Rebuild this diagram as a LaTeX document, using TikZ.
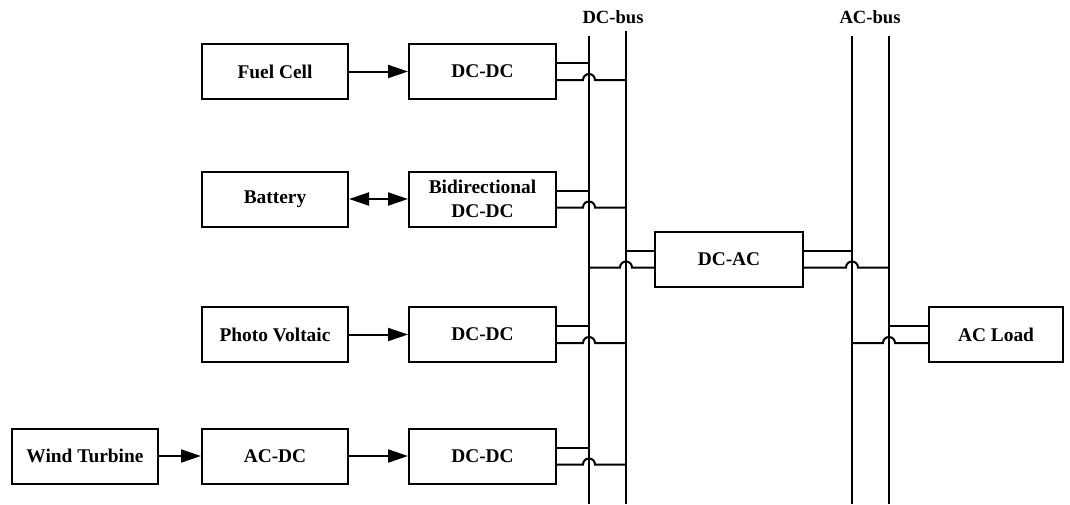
\documentclass[tikz,border=0pt]{standalone}
\usepackage{fontspec}
\setmainfont{Liberation Serif}
\usetikzlibrary{arrows.meta,calc}
\tikzset{
  blk/.style={draw,line width=2pt,minimum height=55pt,inner sep=0pt,align=center,
    font=\bfseries\fontsize{19.4}{23.5}\selectfont},
  wblk/.style={blk,minimum width=146pt},
  lbl/.style={font=\bfseries\fontsize{18.6}{20}\selectfont,inner sep=0pt},
  wire/.style={line width=2pt},
  arr/.style={line width=2pt,-{Triangle[length=20pt,width=13pt]}},
  darr/.style={line width=2pt,{Triangle[length=20pt,width=13pt]}-{Triangle[length=20pt,width=13pt]}},
}
\begin{document}
\begin{tikzpicture}[x=1pt,y=-1pt]
\useasboundingbox (0,0) rectangle (1070,504);
% blocks
\node[wblk] (fc) at (275,71.5) {Fuel Cell};
\node[wblk,minimum width=147pt] (dc1) at (482.5,71.5) {DC-DC};
\node[wblk] (bat) at (275,199) {Battery};
\node[wblk,minimum width=147pt] (bdc) at (482.5,199) {Bidirectional\\DC-DC};
\node[wblk] (pv) at (275,334.5) {Photo Voltaic};
\node[wblk,minimum width=147pt] (dc3) at (482.5,334.5) {DC-DC};
\node[wblk] (wt) at (85,456) {Wind Turbine};
\node[wblk] (acdc) at (275,456) {AC-DC};
\node[wblk,minimum width=147pt] (dc4) at (482.5,456) {DC-DC};
\node[blk,minimum width=148pt] (dcac) at (729,259) {DC-AC};
\node[blk,minimum width=134pt] (acl) at (996,334.5) {AC Load};
% buses
\coordinate (dcLt) at (589,36); \coordinate (dcLb) at (589,504);
\coordinate (dcRt) at (626,31); \coordinate (dcRb) at (626,504);
\coordinate (acLt) at (852,36); \coordinate (acLb) at (852,504);
\coordinate (acRt) at (889,36); \coordinate (acRb) at (889,504);
\draw[wire] (dcLt) -- (dcLb);
\draw[wire] (dcRt) -- (dcRb);
\draw[wire] (acLt) -- (acLb);
\draw[wire] (acRt) -- (acRb);
\node[lbl] (dclbl) at (613,17) {DC-bus};
\node[lbl] (aclbl) at (870,17) {AC-bus};
% arrows
\draw[arr] (fc) -- (dc1);
\draw[darr] (bat) -- (bdc);
\draw[arr] (pv) -- (dc3);
\draw[arr] (wt) -- (acdc);
\draw[arr] (acdc) -- (dc4);
% converters to DC bus
\foreach \b in {dc1,bdc,dc3,dc4}{
  \draw[wire] ([yshift=8.5pt]\b.east) coordinate (u) -- (u -| dcLt);
  \draw[wire] ([yshift=-8.5pt]\b.east) coordinate (l) -- ($(l -| dcLt)+(-6,0)$)
     arc[start angle=180,end angle=0,radius=6pt] -- (l -| dcRt);
}
% DC bus to DC-AC
\draw[wire] ([yshift=8.5pt]dcac.west) coordinate (u) -- (u -| dcRt);
\draw[wire] ([yshift=-8.5pt]dcac.west) coordinate (l) -- ($(l -| dcRt)+(6,0)$)
   arc[start angle=0,end angle=180,radius=6pt] -- (l -| dcLt);
% DC-AC to AC bus
\draw[wire] ([yshift=8.5pt]dcac.east) coordinate (u) -- (u -| acLt);
\draw[wire] ([yshift=-8.5pt]dcac.east) coordinate (l) -- ($(l -| acLt)+(-6,0)$)
   arc[start angle=180,end angle=0,radius=6pt] -- (l -| acRt);
% AC bus to AC load
\draw[wire] ([yshift=8.5pt]acl.west) coordinate (u) -- (u -| acRt);
\draw[wire] ([yshift=-8.5pt]acl.west) coordinate (l) -- ($(l -| acRt)+(6,0)$)
   arc[start angle=0,end angle=180,radius=6pt] -- (l -| acLt);
\end{tikzpicture}
\end{document}
